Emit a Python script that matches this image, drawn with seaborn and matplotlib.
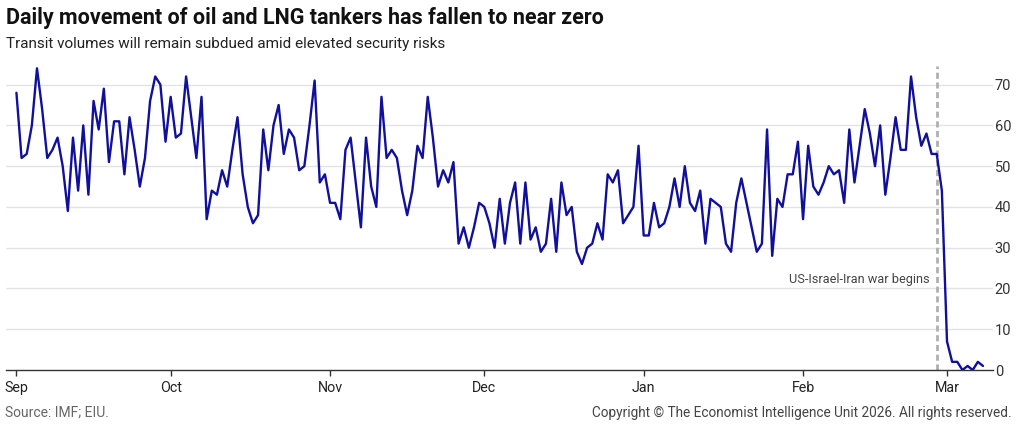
import matplotlib
matplotlib.use("Agg")
import matplotlib.pyplot as plt
import matplotlib.dates as mdates
import seaborn as sns
import pandas as pd

sep = [68, 52, 53, 60, 74, 64, 52, 54, 57, 50, 39, 57, 44, 60, 43, 66, 59, 69, 51, 61,
       61, 48, 62, 54, 45, 52, 66, 72, 70, 56]
oct_ = [67, 57, 58, 72, 62, 52, 67, 37, 44, 43, 49, 45, 54, 62, 48, 40, 36, 38, 59, 49,
        60, 65, 53, 59, 57, 49, 50, 60, 71, 46, 48]
nov = [41, 41, 37, 54, 57, 46, 35, 57, 45, 40, 67, 52, 54, 52, 44, 38, 44, 55, 52, 67,
       57, 45, 49, 46, 51, 31, 35, 30, 35, 41]
dec = [40, 36, 30, 42, 31, 41, 46, 31, 46, 32, 35, 29, 31, 42, 29, 46, 38, 40, 29, 26,
       30, 31, 36, 32, 48, 46, 49, 36, 38, 40, 55]
jan = [33, 33, 41, 35, 36, 40, 47, 40, 50, 41, 39, 44, 31, 42, 41, 40, 31, 29, 41, 47,
       41, 35, 29, 31, 59, 28, 42, 40, 48, 48, 56]
feb = [37, 55, 45, 43, 46, 50, 48, 49, 41, 59, 46, 55, 64, 58, 50, 60, 43, 52, 62, 54,
       54, 72, 62, 55, 58, 53, 53, 44]
mar = [7, 2, 2, 0, 1, 0, 2, 1]

start_date = "2025-09-01"
war_date = "2026-02-27"
war_label = "US-Israel-Iran war begins"
y_ticks = [0, 10, 20, 30, 40, 50, 60, 70]
month_ticks = ["2025-09-01", "2025-10-01", "2025-11-01", "2025-12-01",
               "2026-01-01", "2026-02-01", "2026-03-01"]

values = sep + oct_ + nov + dec + jan + feb + mar
df = pd.DataFrame({"date": pd.date_range(start_date, periods=len(values), freq="D"),
                   "tankers": values})

sns.set_theme(style="white")
plt.rcParams["font.family"] = ["Roboto", "DejaVu Sans"]

fig = plt.figure(figsize=(10.24, 4.29), dpi=100)
ax = fig.add_axes([0.006, 0.1375, 0.964, 0.708])

for v in y_ticks[1:]:
    ax.axhline(v, color="#e3e3e3", lw=1.0, zorder=0)

sns.lineplot(data=df, x="date", y="tankers", ax=ax, color="#10109c", lw=1.7, zorder=3)

wd = pd.Timestamp(war_date)
ax.axvline(wd, color="#b0b0b0", lw=2.0, ls=(0, (2.2, 1.3)), zorder=2)
ax.annotate(war_label, xy=(wd, 22.3), xytext=(-5, 0), textcoords="offset points",
            ha="right", va="center", fontsize=9.2, color="#444444")

ax.set_xlim(pd.Timestamp("2025-08-30"), pd.Timestamp("2026-03-10"))
ax.set_ylim(0, 74.5)
ax.set_xlabel("")
ax.set_ylabel("")

ax.set_xticks([pd.Timestamp(t) for t in month_ticks])
ax.xaxis.set_major_formatter(mdates.DateFormatter("%b"))
ax.tick_params(axis="x", which="major", direction="out", length=4, width=1,
               color="#333333", labelsize=10.3, labelcolor="#222222", pad=4, bottom=True)

ax.yaxis.tick_right()
ax.set_yticks(y_ticks)
ax.tick_params(axis="y", length=0, labelsize=10.5, labelcolor="#333333", pad=1)

for s in ["top", "left", "right"]:
    ax.spines[s].set_visible(False)
ax.spines["bottom"].set_color("#333333")
ax.spines["bottom"].set_linewidth(1.0)
ax.grid(False)

fig.text(0.006, 0.958, "Daily movement of oil and LNG tankers has fallen to near zero",
         fontsize=15.5, fontweight="bold", color="#111111", va="center", ha="left")
fig.text(0.006, 0.897, "Transit volumes will remain subdued amid elevated security risks",
         fontsize=11, color="#222222", va="center", ha="left")
fig.text(0.005, 0.037, "Source: IMF; EIU.", fontsize=10, color="#666666", va="center", ha="left")
fig.text(0.988, 0.037, "Copyright \u00a9 The Economist Intelligence Unit 2026. All rights reserved.",
         fontsize=9.8, color="#444444", va="center", ha="right")

fig.savefig("out.png", dpi=100, facecolor="white")
